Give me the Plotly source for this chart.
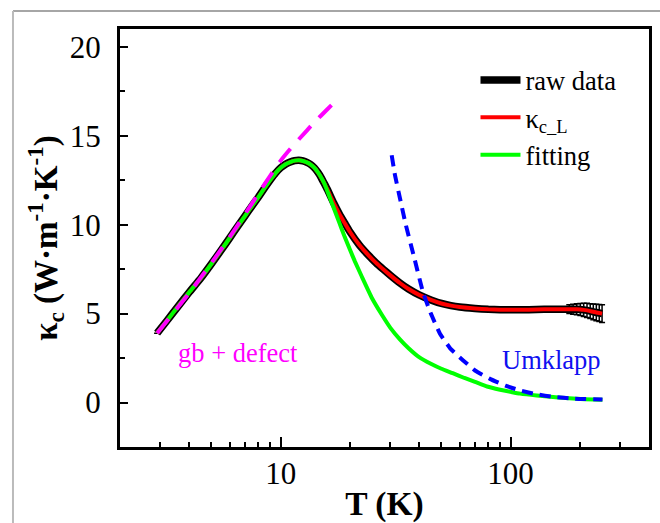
import plotly.graph_objects as go

# ---------------- data ----------------
T_raw = [2.9, 3.2, 3.6, 4.0, 4.5, 5, 5.5, 6, 6.5, 7, 7.5, 8, 8.5, 9, 9.5, 10,
         10.5, 11, 11.5, 12, 12.5, 13, 13.5, 14, 14.5, 15, 15.5, 16, 17, 18,
         19, 20, 22, 24, 26, 28, 30, 33, 36, 40, 45, 50, 55, 60, 70, 80, 90,
         100, 120, 140, 160, 180, 187, 194, 201, 208, 215, 222, 229, 236, 243,
         250]
k_raw = [3.9, 4.6, 5.45, 6.2, 7.0, 7.8, 8.55, 9.25, 9.9, 10.5, 11.05, 11.55,
         12.05, 12.5, 12.9, 13.2, 13.4, 13.52, 13.6, 13.62, 13.58, 13.5, 13.38,
         13.2, 12.95, 12.65, 12.3, 11.95, 11.22, 10.6, 10.08, 9.6, 8.85, 8.3,
         7.85, 7.48, 7.15, 6.72, 6.38, 6.05, 5.77, 5.57, 5.45, 5.37, 5.29, 5.24,
         5.22, 5.21, 5.22, 5.24, 5.25, 5.25, 5.25, 5.24, 5.23, 5.21, 5.18, 5.14,
         5.1, 5.06, 5.03, 5.0]
err_raw = [0] * 51 + [0.25, 0.28, 0.31, 0.34, 0.37, 0.4, 0.42, 0.44, 0.46, 0.48, 0.5]

T_fit = [2.9, 3.2, 3.6, 4.0, 4.5, 5, 5.5, 6, 6.5, 7, 7.5, 8, 8.5, 9, 9.5, 10,
         10.5, 11, 11.5, 12, 12.5, 13, 13.5, 14, 14.5, 15, 15.5, 16, 17, 18,
         19, 20, 21, 22.5, 25, 27.5, 30, 33, 36, 40, 45, 50, 56, 63, 70, 79,
         90, 100, 110, 130, 153, 180, 210, 251]
k_fit = [3.9, 4.6, 5.45, 6.2, 7.0, 7.8, 8.55, 9.25, 9.9, 10.5, 11.05, 11.55,
         12.05, 12.5, 12.9, 13.2, 13.4, 13.52, 13.6, 13.62, 13.58, 13.5, 13.38,
         13.2, 12.95, 12.65, 12.3, 11.85, 10.95, 10.1, 9.3, 8.6, 7.95, 7.1,
         5.85, 4.95, 4.2, 3.55, 3.05, 2.55, 2.18, 1.9, 1.65, 1.38, 1.16, 0.9,
         0.72, 0.6, 0.5, 0.39, 0.31, 0.24, 0.19, 0.15]

T_gb = [2.9, 4, 5, 6, 7, 8, 9, 10, 11, 12, 14, 16, 17.5]
k_gb = [3.9, 6.15, 7.85, 9.3, 10.6, 11.75, 12.75, 13.6, 14.25, 14.8, 15.75,
        16.5, 17.0]

T_um = [30.4, 31.4, 33, 35, 38, 41.6, 45, 49.3, 55, 62.2, 70, 81.3, 95, 110,
        130, 153, 190, 251]
k_um = [13.9, 12.8, 11.5, 10.0, 8.2, 6.2, 5.0, 3.87, 3.0, 2.37, 1.8, 1.33, 0.95,
        0.68, 0.46, 0.32, 0.22, 0.17]

y_ticks = [0, 5, 10, 15, 20]
x_ticks = [10, 100]
x_minor = [3, 4, 5, 6, 7, 8, 9, 20, 30, 40, 50, 60, 70, 80, 90, 200, 300]

FONT = "Liberation Serif, Times New Roman, serif"

fig = go.Figure()

fig.add_trace(go.Scatter(
    x=T_raw, y=k_raw, mode="lines", name="raw data",
    line=dict(color="black", width=7.5, shape="spline", smoothing=0.4),
    error_y=dict(type="data", array=err_raw, visible=True, color="black",
                 thickness=1.5, width=3),
))
fig.add_trace(go.Scatter(
    x=T_raw, y=k_raw, mode="lines", name="κ<sub>c_L</sub>",
    line=dict(color="#FF0000", width=4, shape="spline", smoothing=0.4),
))
fig.add_trace(go.Scatter(
    x=T_fit, y=k_fit, mode="lines", name="fitting",
    line=dict(color="#00FF00", width=4, shape="spline", smoothing=0.4),
))
fig.add_trace(go.Scatter(
    x=T_gb, y=k_gb, mode="lines", showlegend=False,
    line=dict(color="#FF00FF", width=4, dash="18px,12px", shape="spline",
              smoothing=0.4),
))
fig.add_trace(go.Scatter(
    x=T_um, y=k_um, mode="lines", showlegend=False,
    line=dict(color="#0000FF", width=4, dash="11px,7px", shape="spline",
              smoothing=0.4),
))

fig.add_annotation(x=0.813, y=2.8, xref="x", yref="y", text="gb + defect",
                   showarrow=False, font=dict(family=FONT, size=26.5, color="#FF00FF"))
fig.add_annotation(x=2.18, y=2.4, xref="x", yref="y", text="Umklapp",
                   showarrow=False, font=dict(family=FONT, size=26.5, color="#1010F0"))

# outer light frame of the original picture
fig.add_shape(type="line", xref="paper", yref="paper", x0=-0.2023, x1=1.03,
              y0=1.0431, y1=1.0431, line=dict(color="#888888", width=1.5))
fig.add_shape(type="line", xref="paper", yref="paper", x0=-0.2023, x1=-0.2023,
              y0=-0.2, y1=1.0431, line=dict(color="#BBBBBB", width=2))

fig.update_layout(
    width=660, height=523,
    margin=dict(l=120, r=11, t=29, b=76, autoexpand=False),
    paper_bgcolor="white", plot_bgcolor="white",
    font=dict(family=FONT, color="black"),
    legend=dict(x=0.672, y=0.935, xanchor="left", yanchor="top",
                bgcolor="rgba(0,0,0,0)", font=dict(family=FONT, size=26.5),
                tracegroupgap=0, itemwidth=40),
    showlegend=True,
)

fig.update_xaxes(
    automargin=False,
    type="log", range=[0.30103, 2.60206],
    tickmode="array", tickvals=x_ticks, ticktext=[str(v) for v in x_ticks],
    ticks="inside", ticklen=10, tickwidth=2, tickcolor="black",
    minor=dict(tickmode="array", tickvals=x_minor, ticks="inside", ticklen=5,
               tickwidth=2, tickcolor="black"),
    showline=True, linewidth=3, linecolor="black", mirror=True,
    showgrid=False, zeroline=False,
    tickfont=dict(family=FONT, size=31, color="black"),
    ticklabelstandoff=-3,
    title=dict(text="<b>T (K)</b>", font=dict(family=FONT, size=33.5, color="black"),
               standoff=2),
)
fig.update_yaxes(
    automargin=False,
    range=[-2.5, 21],
    tickmode="array", tickvals=y_ticks, ticktext=[str(v) for v in y_ticks],
    ticks="inside", ticklen=8, tickwidth=2, tickcolor="black",
    minor=dict(dtick=2.5, ticks="inside", ticklen=5, tickwidth=2, tickcolor="black"),
    showline=True, linewidth=3, linecolor="black", mirror=True,
    showgrid=False, zeroline=False,
    tickfont=dict(family=FONT, size=31, color="black"),
    ticklabelstandoff=10,
    title=dict(text="<b>κ<sub>c</sub> (W·m<sup>-1</sup>·K<sup>-1</sup>)</b>",
               font=dict(family=FONT, size=33, color="black"), standoff=3),
)

fig.write_html("out.html")
